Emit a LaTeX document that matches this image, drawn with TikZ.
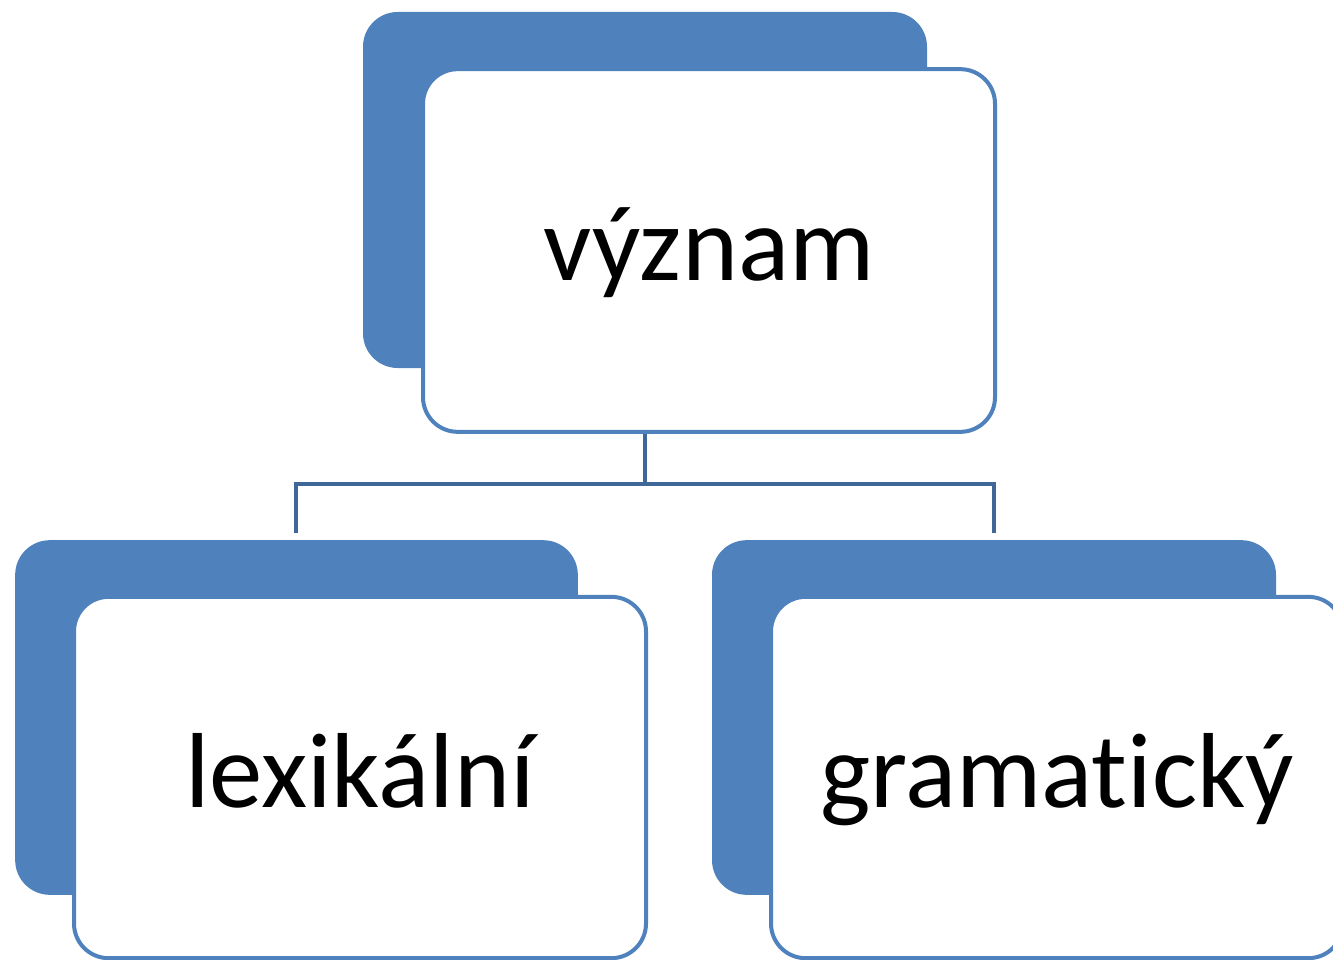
\documentclass[tikz,border=0pt]{standalone}
\usepackage{fontspec}
\setmainfont[RawFeature={-liga,-dlig,-calt,-clig,-rlig}]{Carlito}
\definecolor{accent}{HTML}{4F81BD}
\definecolor{linkc}{HTML}{3F6797}
\tikzset{
  backbox/.style={fill=accent, draw=none, rounded corners=26pt, inner sep=0pt},
  frontbox/.style={fill=white, draw=accent, line width=3pt, rounded corners=26pt, inner sep=0pt,
    minimum width=429pt, minimum height=272pt, text height=45pt, text depth=0pt,
    font=\fontsize{80}{90}\selectfont},
  link/.style={draw=linkc, line width=3.3pt}
}
\begin{document}
\begin{tikzpicture}[x=0.75pt,y=-0.75pt]
\useasboundingbox (0,0) rectangle (1333,959);
% top group
\node[backbox, minimum width=423pt, minimum height=267pt] (vback) at (645,190) {};
\node[frontbox] (vfront) at (709,250.5) {význam};
% left group
\node[backbox, minimum width=422pt, minimum height=266pt] (lback) at (296.5,717.5) {};
\node[frontbox, minimum height=271pt] (lfront) at (360,777.5) {lexikální};
% right group
\node[backbox, minimum width=423pt, minimum height=266pt] (rback) at (994,717.5) {};
\node[frontbox, minimum height=271pt] (rfront) at (1057,777.5) {gramat\kern0pt ický};
% connectors
\coordinate (j) at (645,484);
\coordinate (la) at (296,533);
\coordinate (ra) at (994,533);
\draw[link] (j |- vfront.south) -- (j);
\draw[link, line join=miter] (la) -- (la |- j) -- (ra |- j) -- (ra);
\end{tikzpicture}
\end{document}
